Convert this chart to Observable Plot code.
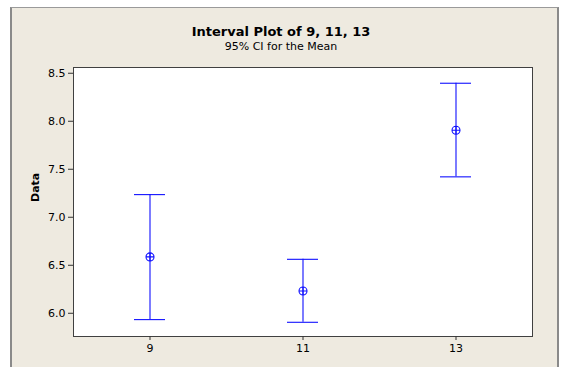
<!DOCTYPE html>
<html>
<head>
<meta charset="utf-8">
<script src="https://cdn.jsdelivr.net/npm/d3@7"></script>
<script src="https://cdn.jsdelivr.net/npm/@observablehq/plot@0.6"></script>
<style>
  html, body { margin: 0; padding: 0; background: #ffffff; }
  #page { position: relative; width: 562px; height: 367px; overflow: hidden; font-family: "DejaVu Sans", sans-serif; }
  #panel { position: absolute; left: 10px; top: 7px; width: 545px; height: 380px;
           background: #EEEAE0; border-left: 2px solid #8a8a8a; border-top: 1px solid #9a9a9a; border-right: 2px solid #8a8a8a; }
  #title { position: absolute; left: 0; width: 562px; top: 24px; text-align: center; font-size: 13px; font-weight: bold; color: #000; line-height: 15px; }
  #subtitle { position: absolute; left: 0; width: 562px; top: 40px; text-align: center; font-size: 11px; color: #000; line-height: 13px; }
  #chart { position: absolute; left: 0; top: 58px; }
  #chart svg { background: transparent; overflow: visible; }
</style>
</head>
<body>
<div id="page">
  <div id="panel"></div>
  <div id="title">Interval Plot of 9, 11, 13</div>
  <div id="subtitle">95% CI for the Mean</div>
  <div id="chart"></div>
</div>
<script>
const groups = ["9", "11", "13"];
const means = [6.587, 6.232, 7.906];
const lower = [5.934, 5.906, 7.421];
const upper = [7.236, 6.562, 8.396];
const yTicks = [6.0, 6.5, 7.0, 7.5, 8.0, 8.5];

const data = groups.map((g, i) => ({group: g, mean: means[i], lo: lower[i], hi: upper[i]}));

const circlePlus = {
  draw(context, size) {
    const r = Math.sqrt(size / Math.PI);
    context.moveTo(r, 0);
    context.arc(0, 0, r, 0, 2 * Math.PI);
    context.moveTo(-r, 0);
    context.lineTo(r, 0);
    context.moveTo(0, -r);
    context.lineTo(0, r);
  }
};

const blue = "#1010ff";
const capInset = 61;

const chart = Plot.plot({
  width: 562,
  height: 309,
  marginLeft: 73,
  marginRight: 30,
  marginTop: 9,
  marginBottom: 31,
  style: {fontFamily: "DejaVu Sans, sans-serif", fontSize: "11px", color: "#000", background: "transparent"},
  x: {type: "band", domain: groups, padding: 0, label: null},
  y: {domain: [5.758, 8.56], label: null},
  marks: [
    Plot.frame({fill: "white", stroke: "#404040", strokeWidth: 1}),
    Plot.axisY({ticks: yTicks, tickSize: 5, tickPadding: 3, tickFormat: d => d.toFixed(1), label: null, stroke: "#333"}),
    Plot.axisX({tickSize: 4, tickPadding: 4, label: null, stroke: "#333"}),
    Plot.text(["Data"], {frameAnchor: "left", dx: -38, rotate: -90, fontWeight: "bold", fontSize: 11, fill: "#000"}),
    Plot.ruleX(data, {x: "group", y1: "lo", y2: "hi", stroke: blue, strokeWidth: 1.1}),
    Plot.tickY(data, {x: "group", y: "hi", stroke: blue, strokeWidth: 1.1, insetLeft: capInset, insetRight: capInset}),
    Plot.tickY(data, {x: "group", y: "lo", stroke: blue, strokeWidth: 1.1, insetLeft: capInset, insetRight: capInset}),
    Plot.dot(data, {x: "group", y: "mean", r: 4, symbol: circlePlus, stroke: blue, strokeWidth: 1.1, fill: "none"})
  ]
});
document.getElementById("chart").appendChild(chart);
</script>
</body>
</html>
